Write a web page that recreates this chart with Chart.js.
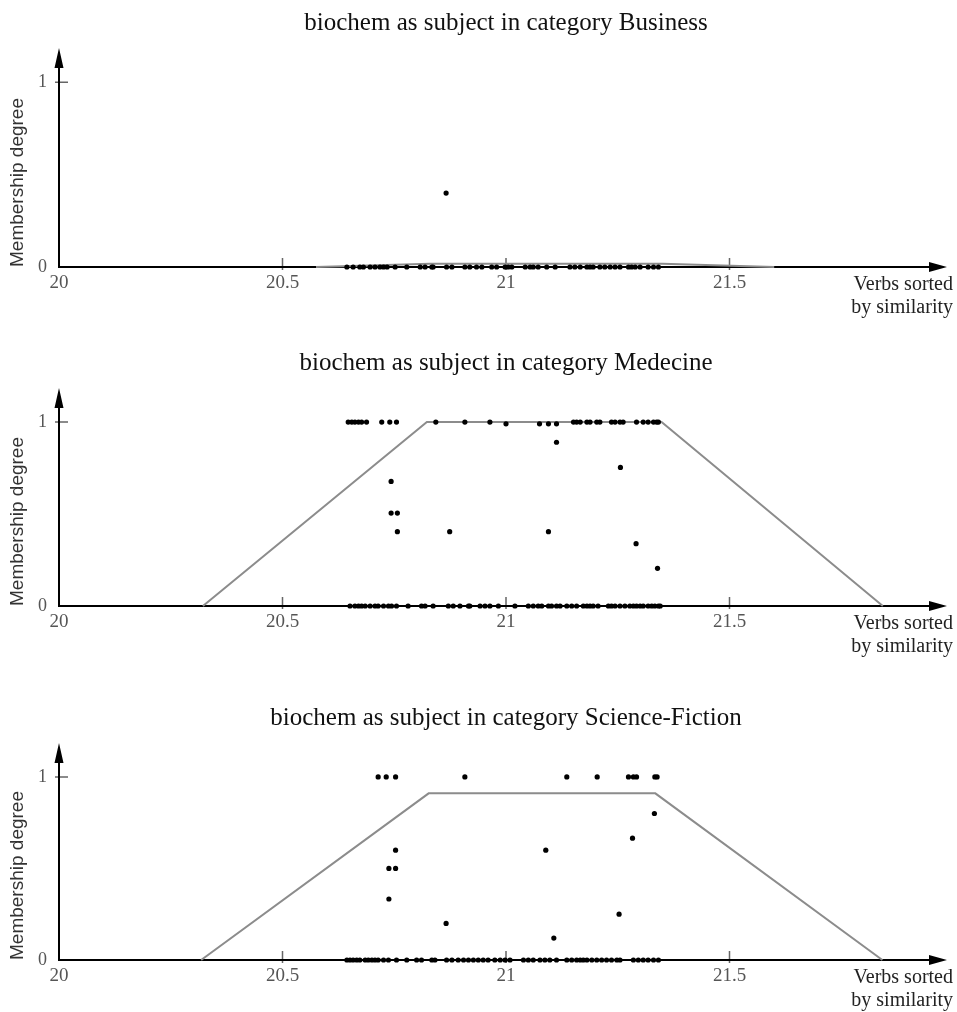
<!DOCTYPE html>
<html>
<head>
<meta charset="utf-8">
<script src="https://cdn.jsdelivr.net/npm/chart.js@4.4.0/dist/chart.umd.min.js"></script>
<style>
  html, body { margin: 0; background: #fff; }
  canvas { position: absolute; left: 0; }
</style>
</head>
<body>
<canvas id="business" width="957" height="311" style="top:8px"></canvas>
<canvas id="medecine" width="957" height="310" style="top:348px"></canvas>
<canvas id="scifi" width="957" height="309" style="top:703px"></canvas>
<script>
// axis ticks and labels
var X_TICKS = [20, 20.5, 21, 21.5];
var Y_TICKS = [0, 1];
var X_TITLE = ['Verbs sorted', 'by similarity'];
var Y_TITLE = 'Membership degree';

// --- Business ---
var bizZeroX = [20.644, 20.658, 20.673, 20.681, 20.696, 20.707, 20.718, 20.726, 20.734, 20.752,
  20.778, 20.808, 20.819, 20.834, 20.837, 20.867, 20.879, 20.908, 20.919, 20.934, 20.946, 20.968,
  20.979, 20.998, 21.005, 21.013, 21.043, 21.054, 21.061, 21.072, 21.091, 21.110, 21.143, 21.154,
  21.166, 21.181, 21.188, 21.195, 21.210, 21.221, 21.233, 21.244, 21.255, 21.274, 21.281, 21.289,
  21.300, 21.318, 21.330, 21.341];
var bizOneX = [];
var bizMidX = [20.866];
var bizMidY = [0.4];
var bizShapeX = [20.575, 20.83, 21.35, 21.6];
var bizShapeY = [0, 0.018, 0.018, 0];

// --- Medecine ---
var medZeroX = [20.651, 20.662, 20.670, 20.677, 20.685, 20.696, 20.707, 20.714, 20.726, 20.737,
  20.744, 20.755, 20.781, 20.811, 20.819, 20.837, 20.871, 20.882, 20.897, 20.916, 20.919, 20.942,
  20.953, 20.964, 20.983, 21.020, 21.050, 21.061, 21.072, 21.080, 21.095, 21.102, 21.113, 21.121,
  21.136, 21.147, 21.158, 21.173, 21.181, 21.188, 21.195, 21.206, 21.229, 21.236, 21.244, 21.255,
  21.266, 21.277, 21.285, 21.292, 21.300, 21.307, 21.318, 21.326, 21.333, 21.341, 21.345];
var medOneX = [20.647, 20.655, 20.662, 20.670, 20.677, 20.688, 20.722, 20.740, 20.755, 20.843,
  20.908, 20.964, 21.151, 21.158, 21.166, 21.181, 21.188, 21.203, 21.210, 21.236, 21.244, 21.255,
  21.262, 21.292, 21.307, 21.318, 21.330, 21.337, 21.341];
var medMidX = [21.000, 21.075, 21.095, 21.113, 21.113, 21.256, 20.743, 20.743, 20.757, 20.757,
  20.874, 21.095, 21.291, 21.339];
var medMidY = [0.99, 0.99, 0.99, 0.99, 0.89, 0.753, 0.677, 0.505, 0.505, 0.404,
  0.404, 0.404, 0.339, 0.205];
var medShapeX = [20.322, 20.823, 21.348, 21.843];
var medShapeY = [0, 1, 1, 0];

// --- Science-Fiction ---
var sfZeroX = [20.644, 20.651, 20.658, 20.666, 20.673, 20.685, 20.692, 20.700, 20.707, 20.714,
  20.726, 20.737, 20.755, 20.778, 20.800, 20.811, 20.834, 20.841, 20.867, 20.879, 20.893, 20.905,
  20.916, 20.927, 20.938, 20.949, 20.960, 20.975, 20.987, 20.998, 21.009, 21.039, 21.050, 21.061,
  21.076, 21.087, 21.098, 21.113, 21.136, 21.147, 21.158, 21.166, 21.173, 21.181, 21.192, 21.203,
  21.214, 21.225, 21.236, 21.248, 21.255, 21.285, 21.296, 21.307, 21.318, 21.330, 21.341];
var sfOneX = [20.714, 20.732, 20.753, 20.908, 21.136, 21.204, 21.274, 21.285, 21.292, 21.333, 21.338];
var sfMidX = [21.332, 21.283, 20.753, 21.089, 20.738, 20.753, 20.738, 20.866, 21.253, 21.107];
var sfMidY = [0.80, 0.665, 0.60, 0.60, 0.50, 0.50, 0.333, 0.20, 0.25, 0.12];
var sfShapeX = [20.318, 20.827, 21.334, 21.842];
var sfShapeY = [0, 0.91, 0.91, 0];

var SERIF = '"Liberation Serif", "Times New Roman", serif';
var SANS = '"Liberation Sans", Arial, sans-serif';

// black axes with arrow heads, small tick marks like the original figure
var axisArrows = {
  id: 'axisArrows',
  beforeDatasetsDraw: function (chart) {
    var ctx = chart.ctx, a = chart.chartArea, x = chart.scales.x, y = chart.scales.y;
    var x0 = x.getPixelForValue(X_TICKS[0]), y0 = y.getPixelForValue(0);
    var tipX = a.right - 6, tipY = a.top;
    ctx.save();
    // tick marks
    ctx.strokeStyle = '#666';
    ctx.lineWidth = 1.5;
    ctx.beginPath();
    X_TICKS.slice(1).forEach(function (v) {
      var px = x.getPixelForValue(v);
      ctx.moveTo(px, y0 - 9); ctx.lineTo(px, y0 + 3);
    });
    var p1 = y.getPixelForValue(1);
    ctx.moveTo(x0 - 4, p1); ctx.lineTo(x0 + 9, p1);
    ctx.stroke();
    // axis lines
    ctx.strokeStyle = '#000';
    ctx.fillStyle = '#000';
    ctx.lineWidth = 2;
    ctx.beginPath();
    ctx.moveTo(x0, y0); ctx.lineTo(tipX - 14, y0);
    ctx.moveTo(x0, y0 + 1); ctx.lineTo(x0, tipY + 14);
    ctx.stroke();
    // arrow heads
    ctx.beginPath();
    ctx.moveTo(tipX, y0); ctx.lineTo(tipX - 18, y0 - 5); ctx.lineTo(tipX - 18, y0 + 5); ctx.closePath();
    ctx.moveTo(x0, tipY); ctx.lineTo(x0 - 4.5, tipY + 20); ctx.lineTo(x0 + 4.5, tipY + 20); ctx.closePath();
    ctx.fill();
    ctx.restore();
  }
};

function toPoints(zeroX, oneX, midX, midY) {
  var pts = [];
  zeroX.forEach(function (v) { pts.push({ x: v, y: 0 }); });
  oneX.forEach(function (v) { pts.push({ x: v, y: 1 }); });
  midX.forEach(function (v, i) { pts.push({ x: v, y: midY[i] }); });
  return pts;
}

function toLine(xs, ys) {
  return xs.map(function (v, i) { return { x: v, y: ys[i] }; });
}

function drawPanel(id, title, points, shape) {
  new Chart(document.getElementById(id), {
    type: 'scatter',
    data: {
      datasets: [
        { type: 'line', data: shape, borderColor: '#8c8c8c', borderWidth: 2, pointRadius: 0,
          fill: false, tension: 0, clip: false, order: 1 },
        { data: points, backgroundColor: '#000', borderColor: '#000', borderWidth: 0,
          pointRadius: 2.6, pointHoverRadius: 2.6, clip: false, order: 0 }
      ]
    },
    options: {
      responsive: false,
      animation: false,
      devicePixelRatio: 1,
      layout: { padding: { left: 0, right: 4, top: 0, bottom: 0 }, autoPadding: false },
      plugins: {
        legend: { display: false },
        tooltip: { enabled: false },
        title: {
          display: true, text: title, color: '#111', fullSize: false,
          font: { family: SERIF, size: 25, weight: 'normal', lineHeight: 1.2 },
          padding: { top: 0, bottom: 10 }
        }
      },
      scales: {
        x: {
          type: 'linear', min: 20, max: 22,
          afterBuildTicks: function (s) { s.ticks = X_TICKS.map(function (v) { return { value: v }; }); },
          afterFit: function (s) { s.height = 52; },
          grid: { display: false, drawTicks: false },
          border: { display: false },
          ticks: { padding: 5, color: '#555', maxRotation: 0, autoSkip: false,
            font: { family: SERIF, size: 19 }, callback: function (v) { return String(v); } },
          title: { display: true, text: X_TITLE, align: 'end', color: '#222',
            font: { family: SERIF, size: 20, lineHeight: 1.15 }, padding: { top: 0, bottom: 0 } }
        },
        y: {
          type: 'linear', min: 0, max: 1.185,
          afterBuildTicks: function (s) { s.ticks = Y_TICKS.map(function (v) { return { value: v }; }); },
          afterFit: function (s) { s.width = 59; },
          grid: { display: false, drawTicks: false },
          border: { display: false },
          ticks: { padding: 12, color: '#555', font: { family: SERIF, size: 18 },
            callback: function (v) { return String(v); } },
          title: { display: true, text: Y_TITLE, align: 'start', color: '#333',
            font: { family: SANS, size: 19, lineHeight: 1.2 }, padding: { top: 6.6, bottom: 0 } }
        }
      }
    },
    plugins: [axisArrows]
  });
}

drawPanel('business', 'biochem as subject in category Business',
  toPoints(bizZeroX, bizOneX, bizMidX, bizMidY), toLine(bizShapeX, bizShapeY));
drawPanel('medecine', 'biochem as subject in category Medecine',
  toPoints(medZeroX, medOneX, medMidX, medMidY), toLine(medShapeX, medShapeY));
drawPanel('scifi', 'biochem as subject in category Science-Fiction',
  toPoints(sfZeroX, sfOneX, sfMidX, sfMidY), toLine(sfShapeX, sfShapeY));
</script>
</body>
</html>
